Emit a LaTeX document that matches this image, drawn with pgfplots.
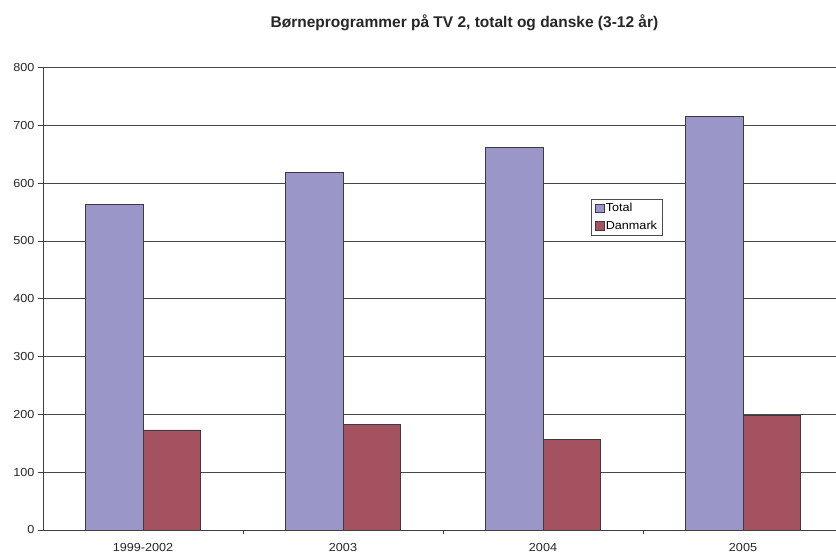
\documentclass[border=0pt]{standalone}
\usepackage{pgfplots}
\pgfplotsset{compat=1.18}
\usepackage{fontspec}
\setmainfont{Liberation Sans}
\newfontfamily\wfont[FakeStretch=1.09]{Liberation Sans}
\definecolor{ctotal}{RGB}{155,150,200}
\definecolor{cdk}{RGB}{165,82,96}
\definecolor{cgrid}{RGB}{70,70,70}
\definecolor{cbar}{RGB}{60,58,70}
\begin{document}
\begin{tikzpicture}[x=1pt,y=1pt]
\begin{axis}[
  at={(43pt,23pt)}, anchor=south west,
  scale only axis, width=793pt, height=462.5pt,
  xmin=-0.5, xmax=3.465, ymin=0, ymax=800,
  axis lines*=left,
  axis line style={draw=black!75, line width=0.8pt},
  ytick={0,100,...,800},
  ymajorgrids, grid style={cgrid, line width=0.6pt},
  xtick={0,1,2,3}, xticklabels={1999-2002,2003,2004,2005},
  major x tick style={draw=none},
  minor xtick={0.5,1.5,2.5},
  tick align=outside, major tick length=5pt, minor tick length=4pt,
  tick style={black!75, line width=0.6pt},
  ticklabel style={font=\wfont\fontsize{11.6}{13}\selectfont, text=black!85},
  xticklabel style={yshift=-5pt},
  /pgf/number format/assume math mode=true,
  ybar, bar width=57.5pt,
  legend style={at={(0.691,0.716)}, anchor=north west, draw=black!70, line width=0.6pt,
    font=\wfont\fontsize{11.6}{13}\selectfont, inner xsep=4pt, inner ysep=3pt,
    nodes={inner sep=1.3pt}, row sep=5pt, cells={anchor=west}},
]
\addplot[fill=ctotal, draw=cbar, line width=0.8pt, bar shift=-28.75pt,
  legend image code/.code={\draw[fill=ctotal, draw=cbar, line width=0.7pt] (0pt,-4.2pt) rectangle (8.5pt,4.2pt);}]
  coordinates {(0,563) (1,619) (2,661) (3,715)};
\addplot[fill=cdk, draw=cbar, line width=0.8pt, bar shift=28.75pt,
  legend image code/.code={\draw[fill=cdk, draw=cbar, line width=0.7pt] (0pt,-4.2pt) rectangle (8.5pt,4.2pt);}]
  coordinates {(0,173) (1,182) (2,156) (3,199)};
\legend{Total,Danmark}
\end{axis}
\node[anchor=base, font=\bfseries\fontsize{15.5}{17}\selectfont, text=black!85] at (464.5,525.5) {Børneprogrammer på TV 2, totalt og danske (3-12 år)};
\pgfresetboundingbox
\useasboundingbox (0,0) rectangle (836,553);
\end{tikzpicture}
\end{document}
